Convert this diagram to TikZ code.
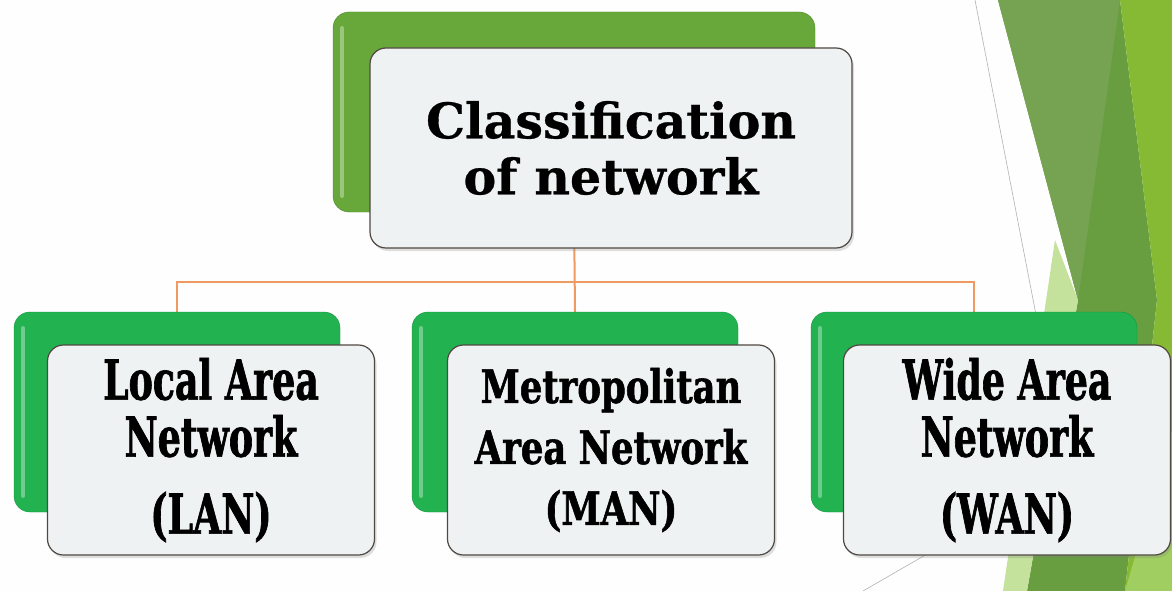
\documentclass[tikz,border=0pt]{standalone}
\usepackage{fontspec}
\usetikzlibrary{positioning, calc, shadows, backgrounds}
\newfontfamily\titlefont[FakeBold=0.6]{DejaVu Serif}
\newfontfamily\typefont[FakeStretch=0.66, FakeBold=1.2]{DejaVu Serif}
\newfontfamily\widetypefont[FakeStretch=0.77, FakeBold=1.2]{DejaVu Serif}
\definecolor{leafgreen}{RGB}{104,168,58}
\definecolor{leafdark}{RGB}{78,138,42}
\definecolor{mintgreen}{RGB}{34,178,80}
\definecolor{mintdark}{RGB}{22,150,64}
\definecolor{cardfill}{RGB}{239,242,242}
\definecolor{cardedge}{RGB}{80,72,66}
\definecolor{wireorange}{RGB}{238,154,96}
\definecolor{facetmuted}{RGB}{118,163,82}
\definecolor{facetdark}{RGB}{104,158,64}
\definecolor{facetlime}{RGB}{134,186,52}
\definecolor{facetpale}{RGB}{196,226,156}
\definecolor{facetlight}{RGB}{160,206,96}

\begin{document}
\begin{tikzpicture}[
    x=1pt, y=-1pt,
    gloss/.style={path picture={\draw[white, opacity=0.35, line width=4pt, line cap=round] ($(path picture bounding box.north west)+(9,16)$) -- ($(path picture bounding box.south west)+(9,-16)$);}},
    rootback/.style={draw=leafdark, fill=leafgreen, gloss, rounded corners=16pt, minimum width=482pt, minimum height=200pt},
    typeback/.style={draw=mintdark, fill=mintgreen, gloss, rounded corners=16pt, minimum width=326pt, minimum height=200pt},
    card/.style={draw=cardedge, line width=1.2pt, fill=cardfill, rounded corners=16pt, align=center, drop shadow={shadow xshift=2pt, shadow yshift=-3pt, opacity=0.25}},
    rootcard/.style={card, minimum width=482pt, minimum height=200pt, font=\titlefont\bfseries\fontsize{49}{56}\selectfont},
    typecard/.style={card, minimum width=327pt, minimum height=210pt, font=\typefont\bfseries\fontsize{55}{57}\selectfont},
    link/.style={wireorange, line width=2pt},
    facetline/.style={gray!60, line width=0.6pt}
]
\useasboundingbox (0,0) rectangle (1172,591);

% Root
\node[rootback] (rootback) at (574,112) {};
\node[rootcard] (root) at ($(rootback)+(37,36)$) {Classification\\of network};

% Network types
\node[typeback] (lanback) at (177,412) {};
\node[typecard] (lan) at ($(lanback)+(34,38)$) {Local Area\\Network\\[20pt](LAN)};

\node[typeback] (manback) at (575,412) {};
\node[typecard, font=\widetypefont\bfseries\fontsize{46}{61}\selectfont] (man) at ($(manback)+(36,38)$) {Metropolitan\\Area Network\\(MAN)};

\node[typeback] (wanback) at (974,412) {};
\node[typecard] (wan) at ($(wanback)+(33,38)$) {Wide Area\\Network\\[20pt](WAN)};

\begin{scope}[on background layer]
\fill[white!99!gray] (0,0) rectangle (1172,591);

% Facets
\fill[facetdark] (998,0) -- (1120,0) -- (1157,300) -- (1125,591) -- (1027,591) -- (1078,300) -- cycle;
\fill[facetmuted] (998,0) -- (1120,0) -- (1078,300) -- cycle;
\fill[facetlime] (1120,0) -- (1172,0) -- (1172,591) -- (1125,591) -- (1157,300) -- cycle;
\fill[facetlight] (1125,591) -- (1172,430) -- (1172,591) -- cycle;
\fill[facetpale] (1055,240) -- (1078,300) -- (1027,591) -- (1003,591) -- cycle;
\draw[facetline] (975,0) -- (1037,320);
\draw[facetline] (863,591) -- (960,535);

% Links
\coordinate (bus) at ($(rootback.south)+(0,70)$);
\draw[link] (rootback.south) -- (manback.north);
\draw[link] (bus) -| (lanback.north);
\draw[link] (bus) -| (wanback.north);
\end{scope}

\end{tikzpicture}
\end{document}
